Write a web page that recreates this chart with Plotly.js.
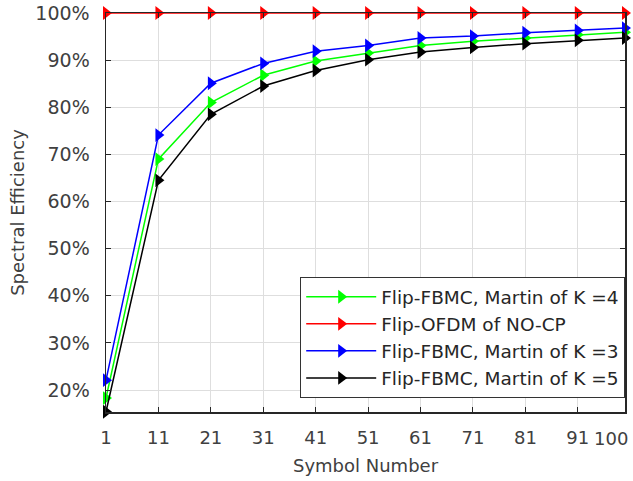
<!DOCTYPE html>
<html>
<head>
<meta charset="utf-8">
<script src="https://cdn.plot.ly/plotly-3.0.1.min.js"></script>
<style>html,body{margin:0;padding:0;background:#fff;}#chart{width:633px;height:481px;}</style>
</head>
<body>
<div id="chart"></div>
<script>
const symbols = [1, 11, 21, 31, 41, 51, 61, 71, 81, 91, 100];
const tickLabels = ['1', '11', '21', '31', '41', '51', '61', '71', '81', '91', '100'];
const yTicks = [0.2, 0.3, 0.4, 0.5, 0.6, 0.7, 0.8, 0.9, 1.0];
const yTickLabels = ['20%', '30%', '40%', '50%', '60%', '70%', '80%', '90%', '100%'];

const seriesNames = ['Flip-FBMC, Martin of K =4', 'Flip-OFDM of NO-CP', 'Flip-FBMC, Martin of K =3', 'Flip-FBMC, Martin of K =5'];
const fbmcK4 = [0.183, 0.690, 0.810, 0.868, 0.898, 0.915, 0.931, 0.940, 0.947, 0.954, 0.959];
const ofdmNoCP = [1.0, 1.0, 1.0, 1.0, 1.0, 1.0, 1.0, 1.0, 1.0, 1.0, 1.0];
const fbmcK3 = [0.221, 0.741, 0.851, 0.893, 0.919, 0.931, 0.947, 0.951, 0.958, 0.963, 0.968];
const fbmcK5 = [0.154, 0.645, 0.785, 0.845, 0.878, 0.901, 0.917, 0.927, 0.935, 0.942, 0.947];
const colors = ['#00ff00', '#ff0000', '#0000ff', '#000000'];

const allSeries = [fbmcK4, ofdmNoCP, fbmcK3, fbmcK5];
const traces = allSeries.map((ys, i) => ({
  x: symbols,
  y: ys,
  name: seriesNames[i],
  type: 'scatter',
  mode: 'lines+markers',
  line: {color: colors[i], width: 1.5},
  marker: {symbol: 'triangle-right', size: 12, color: colors[i]},
  cliponaxis: false
}));

const fam = 'DejaVu Sans, Arial, sans-serif';
const font = {family: fam, size: 18, color: '#404040'};
const yFont = {family: fam, size: 19, color: '#404040'};
const last = symbols.length - 1;
// the last tick label is drawn right-aligned so it stays inside the picture
const shownTickText = tickLabels.map((t, i) => i === last ? '' : t);
const layout = {
  width: 633, height: 481,
  margin: {l: 106, r: 8, t: 13, b: 69},
  paper_bgcolor: '#ffffff', plot_bgcolor: '#ffffff',
  font: font,
  showlegend: true,
  legend: {
    x: 1, xanchor: 'right', y: 0.035, yanchor: 'bottom',
    bgcolor: '#ffffff', bordercolor: '#333333', borderwidth: 1.2,
    font: {family: fam, size: 18.5, color: '#262626'},
    itemwidth: 70, tracegroupgap: 0
  },
  annotations: [{
    x: symbols[last], xref: 'x', y: 0, yref: 'paper',
    text: tickLabels[last], showarrow: false,
    xanchor: 'right', yanchor: 'top', xshift: 5, yshift: -14,
    font: font
  }],
  xaxis: {
    range: [1, 100],
    tickmode: 'array', tickvals: symbols, ticktext: shownTickText,
    showgrid: true, gridcolor: '#dedede', gridwidth: 1,
    showline: true, linecolor: '#262626', linewidth: 1.5, mirror: 'ticks',
    ticks: 'inside', ticklen: 5, tickcolor: '#262626',
    zeroline: false,
    ticklabelstandoff: 9,
    tickfont: font,
    title: {text: 'Symbol Number', font: font, standoff: 12}
  },
  yaxis: {
    range: [0.1535, 1.0],
    tickmode: 'array', tickvals: yTicks, ticktext: yTickLabels,
    showgrid: true, gridcolor: '#dedede', gridwidth: 1,
    showline: true, linecolor: '#262626', linewidth: 1.5, mirror: 'ticks',
    ticks: 'inside', ticklen: 5, tickcolor: '#262626',
    zeroline: false,
    ticklabelstandoff: 11,
    tickfont: yFont,
    title: {text: 'Spectral Efficiency', font: font, standoff: 6}
  }
};

Plotly.newPlot('chart', traces, layout, {displayModeBar: false, staticPlot: true});
</script>
</body>
</html>
